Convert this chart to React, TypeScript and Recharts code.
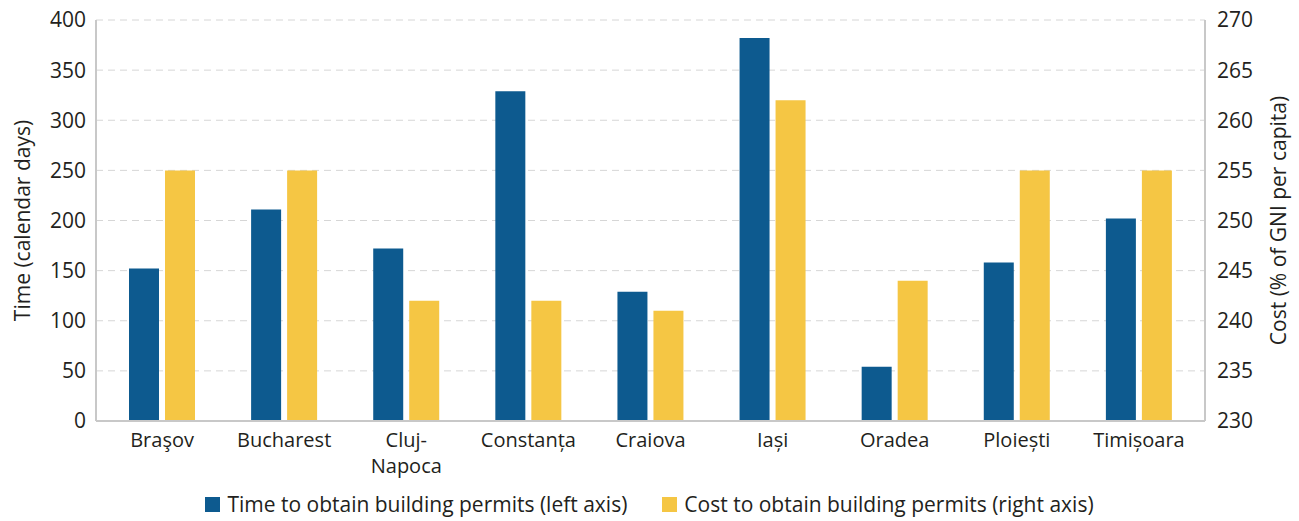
import { BarChart, Bar, XAxis, YAxis, CartesianGrid, Legend } from 'recharts'

const cities = ['Braşov', 'Bucharest', 'Cluj-Napoca', 'Constanța', 'Craiova', 'Iași', 'Oradea', 'Ploiești', 'Timișoara']
const timeDays = [152, 211, 172, 329, 129, 382, 54, 158, 202]
const costGni = [255, 255, 242, 242, 241, 262, 244, 255, 255]
const leftTicks = [0, 50, 100, 150, 200, 250, 300, 350, 400]
const rightTicks = [230, 235, 240, 245, 250, 255, 260, 265, 270]

const BLUE = '#0d5a8f'
const YELLOW = '#f5c644'
const TEXT = '#231f20'
const FONT = '"Open Sans", sans-serif'
const FS = 21

const data = cities.map((city, i) => ({ city, time: timeDays[i], cost: costGni[i] }))

// splits "Cluj-Napoca" onto two lines, keeps the hyphen on the first
function CityTick({ x, y, payload }: any) {
  const label: string = payload.value
  const cut = label.indexOf('-')
  const lines = cut >= 0 ? [label.slice(0, cut + 1), label.slice(cut + 1)] : [label]
  return (
    <g>
      {lines.map((l, i) => (
        <text key={i} x={x} y={y + 26 + i * 26} textAnchor="middle" fill={TEXT} fontSize={20} fontFamily={FONT}>
          {l}
        </text>
      ))}
    </g>
  )
}

function AxisTitle({ viewBox, text, offsetX }: any) {
  const cx = viewBox.x + offsetX
  const cy = viewBox.y + viewBox.height / 2
  return (
    <text
      x={cx}
      y={cy}
      transform={`rotate(-90 ${cx} ${cy})`}
      textAnchor="middle"
      dominantBaseline="central"
      fill={TEXT}
      fontSize={FS}
      fontFamily={FONT}
    >
      {text}
    </text>
  )
}

function PermitLegend() {
  const items = [
    { color: BLUE, label: 'Time to obtain building permits (left axis)' },
    { color: YELLOW, label: 'Cost to obtain building permits (right axis)' },
  ]
  return (
    <div style={{ display: 'flex', justifyContent: 'center', gap: 35, paddingTop: 14, fontFamily: FONT, fontSize: FS, color: TEXT }}>
      {items.map((it) => (
        <div key={it.label} style={{ display: 'flex', alignItems: 'center', gap: 7 }}>
          <span style={{ width: 15, height: 15, background: it.color, display: 'inline-block' }} />
          <span>{it.label}</span>
        </div>
      ))}
    </div>
  )
}

export default function App() {
  return (
    <div style={{ position: 'absolute', left: 0, top: 0, background: '#fff' }}>
      <BarChart
        width={1299}
        height={521}
        data={data}
        margin={{ top: 20, right: 0, left: 0, bottom: 0 }}
        barSize={30}
        barGap={6}
      >
        <CartesianGrid yAxisId="left" vertical={false} stroke="#d6d6d6" strokeDasharray="7 5" />
        <XAxis
          dataKey="city"
          height={55}
          tick={<CityTick />}
          tickLine={false}
          tickSize={0}
          tickMargin={0}
          interval={0}
          padding={{ left: 5, right: 5 }}
          axisLine={{ stroke: '#c8c8c8', strokeWidth: 2 }}
        />
        <YAxis
          yAxisId="left"
          orientation="left"
          width={96}
          domain={[0, 400]}
          ticks={leftTicks}
          tickLine={false}
          tickMargin={4}
          axisLine={{ stroke: '#c8c8c8', strokeWidth: 2 }}
          tick={{ fill: TEXT, fontSize: FS, fontFamily: FONT }}
          label={<AxisTitle text="Time (calendar days)" offsetX={22} />}
        />
        <YAxis
          yAxisId="right"
          orientation="right"
          width={94}
          domain={[230, 270]}
          ticks={rightTicks}
          tickLine={false}
          tickMargin={6}
          axisLine={{ stroke: '#c8c8c8', strokeWidth: 2 }}
          tick={{ fill: TEXT, fontSize: FS, fontFamily: FONT }}
          label={<AxisTitle text="Cost (% of GNI per capita)" offsetX={73} />}
        />
        <Legend verticalAlign="bottom" height={45} content={<PermitLegend />} />
        <Bar yAxisId="left" dataKey="time" fill={BLUE} isAnimationActive={false} />
        <Bar yAxisId="right" dataKey="cost" fill={YELLOW} isAnimationActive={false} />
      </BarChart>
    </div>
  )
}
